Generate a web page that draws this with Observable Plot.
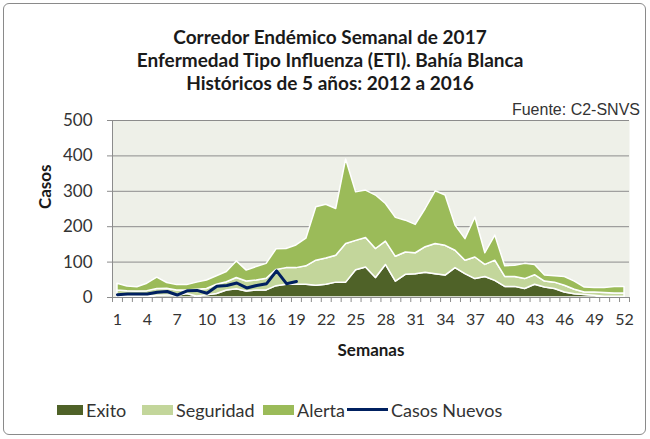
<!DOCTYPE html>
<html>
<head>
<meta charset="utf-8">
<script src="https://cdn.jsdelivr.net/npm/d3@7"></script>
<script src="https://cdn.jsdelivr.net/npm/@observablehq/plot@0.6"></script>
<style>
  html, body { margin: 0; padding: 0; background: #fff; }
  #wrap { position: relative; width: 650px; height: 439px; overflow: hidden; font-family: Lato, "Open Sans", sans-serif; color: #222; }
  #border { position: absolute; left: 3px; top: 3px; width: 641px; height: 430px; border: 1px solid #8a8a8a; border-radius: 6px; }
  #title { position: absolute; left: 0; top: 25px; width: 660px; text-align: center; font-weight: bold; font-size: 19px; line-height: 23px; color: #1a1a1a; }
  #source { position: absolute; right: 10px; top: 101px; font-family: "Liberation Sans", Arial, sans-serif; font-size: 16px; color: #333; }
  #chart { position: absolute; left: 0; top: 100px; }
  .leg { position: absolute; top: 400px; font-size: 18px; color: #333; line-height: 20px; }
  .sw { position: absolute; top: 405px; height: 10px; }
  .ln { position: absolute; top: 408px; height: 3px; background: #002060; }
</style>
</head>
<body>
<div id="wrap">
  <div id="border"></div>
  <div id="title"></div>
  <div id="source"></div>
  <div id="chart"></div>
  <div id="legend"></div>
</div>
<script>
const titleLines = ["Corredor Endémico Semanal de 2017", "Enfermedad Tipo Influenza (ETI). Bahía Blanca", "Históricos de 5 años: 2012 a 2016"];
const sourceText = "Fuente: C2-SNVS";
const xTitle = "Semanas";
const yTitle = "Casos";

const weeks = d3.range(1, 53);
const seriesNames = ["Exito", "Seguridad", "Alerta"];
const lineName = "Casos Nuevos";
const seriesColors = ["#4F6228", "#C3D69B", "#9BBB59"];
const lineColor = "#002060";

// stacked increments (Excel stacked-area series)
const exito = [4, 3, 3, 3, 5, 6, 4, 10, 3, 6, 10, 20, 23, 17, 20, 20, 32, 36, 36, 36, 33, 36, 42, 42, 77, 85, 55, 92, 45, 64, 66, 70, 66, 62, 83, 66, 52, 58, 47, 30, 30, 24, 36, 28, 24, 14, 9, 7, 5, 2, 2, 2];
const seguridad = [16, 15, 14, 15, 19, 19, 16, 10, 19, 18, 26, 23, 32, 28, 28, 33, 46, 47, 47, 52, 71, 74, 76, 109, 83, 83, 82, 66, 70, 63, 59, 72, 85, 84, 49, 38, 61, 34, 57, 28, 28, 28, 27, 17, 18, 19, 13, 7, 9, 11, 9, 9];
const alerta = [19, 13, 12, 21, 32, 16, 15, 15, 20, 24, 24, 29, 47, 31, 38, 42, 58, 54, 64, 78, 151, 152, 132, 239, 137, 134, 151, 106, 110, 90, 80, 108, 149, 142, 71, 61, 113, 33, 71, 30, 32, 43, 29, 17, 18, 25, 23, 14, 13, 14, 19, 19];
const casosNuevos = [8, 10, 10, 10, 15, 17, 7, 19, 20, 12, 32, 34, 41, 27, 34, 39, 75, 39, 45];

const yTicks = [0, 100, 200, 300, 400, 500];
const xLabelWeeks = [1, 4, 7, 10, 13, 16, 19, 22, 25, 28, 31, 34, 37, 40, 43, 46, 49, 52];
const xTickBounds = d3.range(0.5, 53, 1);

document.getElementById("title").innerHTML = titleLines.join("<br>");
document.getElementById("source").textContent = sourceText;

const seriesValues = [exito, seguridad, alerta];
const rows = seriesNames.flatMap((s, si) => seriesValues[si].map((v, i) => ({series: s, week: weeks[i], value: v})));

const chart = Plot.plot({
  width: 650,
  height: 270,
  marginLeft: 112,
  marginRight: 21,
  marginTop: 20,
  marginBottom: 73,
  x: {domain: [0.5, 52.5]},
  y: {domain: [0, 500]},
  color: {domain: seriesNames, range: seriesColors},
  style: {fontFamily: "Lato, 'Open Sans', sans-serif", fontSize: "16px", color: "#333", background: "transparent", overflow: "visible"},
  marks: [
    Plot.frame({fill: "#EEF0E8", stroke: null}),
    Plot.gridY(yTicks.slice(1), {stroke: "#8c8c8c", strokeOpacity: 1}),
    Plot.areaY(rows, {x: "week", y: "value", z: "series", fill: "series", order: seriesNames, stroke: "white", strokeWidth: 1.5}),
    Plot.lineY(casosNuevos, {x: (d, i) => weeks[i], y: d => d, stroke: lineColor, strokeWidth: 3}),
    Plot.ruleX([0.5], {stroke: "#8c8c8c"}),
    Plot.ruleY([0], {stroke: "#8c8c8c"}),
    Plot.axisY(yTicks, {tickSize: 5, tickPadding: 15, stroke: "#8c8c8c", fill: "#333", fontSize: 17, label: null}),
    Plot.axisX(xTickBounds, {tickSize: 5, tickFormat: () => "", stroke: "#8c8c8c", label: null}),
    Plot.axisX(xLabelWeeks, {tickSize: 0, tickPadding: 16, fontSize: 16, fill: "#333", label: null}),
    Plot.text([xTitle], {frameAnchor: "bottom", dy: 58, text: d => d, fontWeight: "bold", fontSize: 17, fill: "#1a1a1a"}),
    Plot.text([yTitle], {frameAnchor: "left", dx: -67, rotate: -90, text: d => d, fontWeight: "bold", fontSize: 17, fill: "#1a1a1a"})
  ]
});
document.getElementById("chart").appendChild(chart);

// legend
const legend = document.getElementById("legend");
const legItems = [
  {name: seriesNames[0], color: seriesColors[0], sx: 57, tx: 86, type: "sw"},
  {name: seriesNames[1], color: seriesColors[1], sx: 142, tx: 176, type: "sw"},
  {name: seriesNames[2], color: seriesColors[2], sx: 263, tx: 297, type: "sw"},
  {name: lineName, color: lineColor, sx: 347, tx: 391, type: "ln"}
];
for (const it of legItems) {
  const s = document.createElement("div");
  s.className = it.type;
  s.style.left = it.sx + "px";
  s.style.width = (it.tx - it.sx - 3) + "px";
  s.style.background = it.color;
  legend.appendChild(s);
  const t = document.createElement("div");
  t.className = "leg";
  t.style.left = it.tx + "px";
  t.textContent = it.name;
  legend.appendChild(t);
}
</script>
</body>
</html>
